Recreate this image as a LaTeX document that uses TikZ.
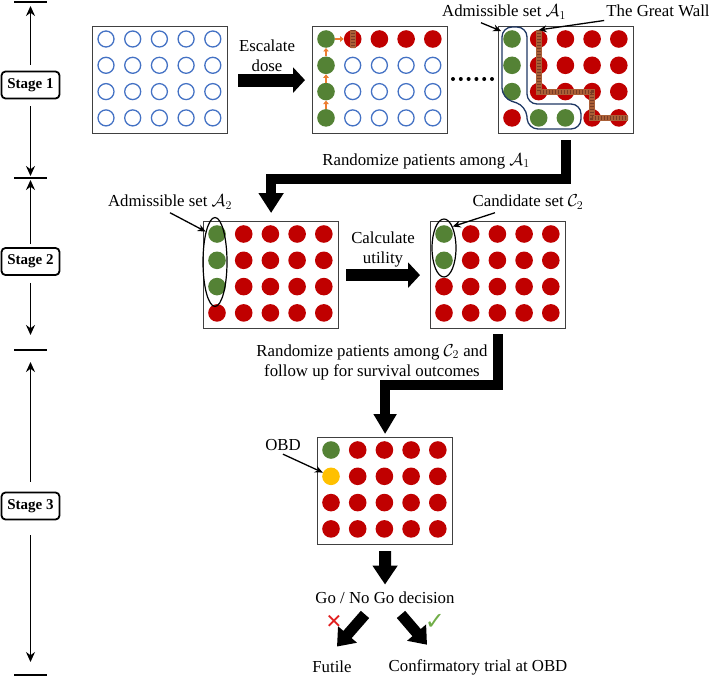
\documentclass[tikz,border=0pt]{standalone}
\usepackage{fontspec}
\setmainfont{Liberation Serif}
\newfontfamily\marksfont{DejaVu Sans}
\usetikzlibrary{shapes.geometric, arrows.meta}

\definecolor{doseRed}{RGB}{192,0,0}
\definecolor{doseGreen}{RGB}{84,130,53}
\definecolor{doseBlue}{RGB}{68,114,196}
\definecolor{doseOrange}{RGB}{237,125,49}
\definecolor{doseYellow}{RGB}{255,192,0}
\definecolor{wallBrown}{RGB}{170,95,55}
\definecolor{wallDark}{RGB}{120,60,38}
\definecolor{setNavy}{RGB}{31,56,100}
\definecolor{goGreen}{RGB}{112,173,71}
\definecolor{noRed}{RGB}{225,30,30}

\tikzstyle{gridbox} = [rectangle, draw=black!75, line width=1.2pt, minimum width=135pt, minimum height=107pt, inner sep=0pt, anchor=north west]
\tikzstyle{cellR} = [circle, fill=doseRed, minimum size=17.6pt, inner sep=0pt]
\tikzstyle{cellG} = [circle, fill=doseGreen, minimum size=17.6pt, inner sep=0pt]
\tikzstyle{cellY} = [circle, fill=doseYellow, minimum size=17.6pt, inner sep=0pt]
\tikzstyle{cellE} = [circle, draw=doseBlue, line width=1.3pt, minimum size=16pt, inner sep=0pt]
\tikzstyle{stagebox} = [rectangle, rounded corners=4pt, draw=black, line width=1.8pt, minimum width=58pt, minimum height=27pt, inner sep=2pt, font=\fontsize{15}{16}\selectfont\bfseries]
\tikzstyle{stagearrow} = [line width=1.5pt, -{Stealth[length=10pt, width=9pt]}]
\tikzstyle{stagebar} = [line width=1.6pt]
\tikzstyle{fatarrow} = [line width=11pt, line join=miter, -{Triangle[length=18pt, width=24pt]}]
\tikzstyle{pointer} = [line width=1.3pt, -{Stealth[length=8pt, width=7pt]}]
\tikzstyle{stepup} = [doseOrange, line width=1.8pt, -{Triangle[length=3.5pt, width=5.5pt]}]
\tikzstyle{wall} = [line width=6pt, draw=wallBrown, line join=miter]
\tikzstyle{bricks} = [line width=4pt, draw=wallDark, dash pattern=on 1.2pt off 1.8pt]
\tikzstyle{setring} = [ellipse, draw=black, line width=1.2pt, inner sep=0pt]

% name, left, top, rows of cell codes
\newcommand{\dosegrid}[4]{%
  \node[gridbox] (#1) at (#2,#3) {};
  \foreach \rowlist [count=\rowno] in {#4} {
    \foreach \cellcode [count=\colno] in \rowlist
      \node[cell\cellcode] (#1-\rowno-\colno) at (#2+14+26.7*\colno-26.7, #3+13+26.3*\rowno-26.3) {};
  }
}

\begin{document}
\begin{tikzpicture}[x=1pt, y=-1pt, font=\fontsize{16.8}{20}\selectfont]
  \useasboundingbox (0,0) rectangle (709,677);

  % stages on the left
  \node (s1) [stagebox] at (30.5,85) {Stage 1};
  \node (s2) [stagebox] at (30.5,261.5) {Stage 2};
  \node (s3) [stagebox] at (30.5,506) {Stage 3};
  \coordinate (bar0) at (30.5,2);
  \coordinate (bar1) at (30.5,178);
  \coordinate (bar2) at (30.5,350);
  \coordinate (bar3) at (30.5,675);
  \foreach \b in {bar0,bar1,bar2,bar3}
    \draw[stagebar] ([xshift=-16.5pt]\b) -- ([xshift=16.5pt]\b);
  \draw[stagearrow, shorten <=6pt, shorten >=4pt] (s1) -- (bar0);
  \draw[stagearrow, shorten <=7pt, shorten >=2pt] (s1) -- (bar1);
  \draw[stagearrow, shorten <=3pt, shorten >=2pt] (s2) -- (bar1);
  \draw[stagearrow, shorten <=7pt, shorten >=15pt] (s2) -- (bar2);
  \draw[stagearrow, shorten <=10pt, shorten >=12pt] (s3) -- (bar2);
  \draw[stagearrow, shorten <=15pt, shorten >=13pt] (s3) -- (bar3);

  % dose grids
  \dosegrid{g1}{92}{26}{{E,E,E,E,E},{E,E,E,E,E},{E,E,E,E,E},{E,E,E,E,E}}
  \dosegrid{g2}{312}{26}{{G,R,R,R,R},{G,E,E,E,E},{G,E,E,E,E},{G,E,E,E,E}}
  \dosegrid{g3}{498}{26}{{G,R,R,R,R},{G,R,R,R,R},{G,R,R,R,R},{R,G,G,R,R}}
  \dosegrid{g4}{203}{221}{{G,R,R,R,R},{G,R,R,R,R},{G,R,R,R,R},{R,R,R,R,R}}
  \dosegrid{g5}{430}{221}{{G,R,R,R,R},{G,R,R,R,R},{R,R,R,R,R},{R,R,R,R,R}}
  \dosegrid{g6}{317}{437}{{G,R,R,R,R},{Y,R,R,R,R},{R,R,R,R,R},{R,R,R,R,R}}

  % escalation steps
  \draw[stepup] (g2-4-1) -- (g2-3-1);
  \draw[stepup] (g2-3-1) -- (g2-2-1);
  \draw[stepup] (g2-2-1) -- (g2-1-1);
  \draw[stepup] (g2-1-1) -- (g2-1-2);

  % great wall
  \draw[wall] (g2-1-2.north) -- (g2-1-2.south);
  \draw[bricks] (g2-1-2.north) -- (g2-1-2.south);
  \draw[wall] (g3-1-2.north) -- (g3-3-2.center) -- (g3-3-4.center) -- (g3-4-4.center) -- (g3-4-5.east);
  \draw[bricks] (g3-1-2.north) -- (g3-3-2.center) -- (g3-3-4.center) -- (g3-4-4.center) -- (g3-4-5.east);

  % admissible set A1
  \draw[setNavy, line width=1.3pt, rounded corners=10pt] (502,27) -- (527,27) -- (527,104) -- (581,104) -- (581,129) -- (528,129) -- (526,106) -- (502,98) -- cycle;
  \coordinate (A1tip) at (501,31);

  \foreach \i in {0,...,5}
    \fill (453+7.8*\i,79) circle[radius=2pt];

  % sets in stage 2
  \node[setring, minimum width=24pt, minimum height=89pt] (setA2) at (215,262) {};
  \node[setring, minimum width=24pt, minimum height=58pt] (setC2) at (444,248) {};

  % labels
  \node (lblA1) at (504,12) {Admissible set $\mathcal{A}_1$};
  \node (lblWall) at (658,11) {The Great Wall};
  \node[align=center] (lblEsc) at (267,55.5) {Escalate\\dose};
  \node (lblRandA) at (426,161) {Randomize patients among $\mathcal{A}_1$};
  \node (lblA2) at (170,202) {Admissible set $\mathcal{A}_2$};
  \node[align=center] (lblCalc) at (383,249) {Calculate\\utility};
  \node (lblC2) at (528,202) {Candidate set $\mathcal{C}_2$};
  \node[align=center] (lblRandC) at (372,362) {Randomize patients among $\mathcal{C}_2$ and\\follow up for survival outcomes};
  \node (lblOBD) at (283,445) {OBD};
  \node (decide) at (385,598) {Go / No Go decision};
  \node[text=noRed, font=\marksfont\fontsize{20}{20}\selectfont] (nogo) at (334,622) {✕};
  \node[text=goGreen, font=\marksfont\fontsize{24}{24}\selectfont] (go) at (435,622) {✓};
  \node (futile) at (332,667) {Futile};
  \node (confirm) at (478,667) {Confirmatory trial at OBD};

  % pointers
  \draw[pointer] (lblA1.205) -- (A1tip);
  \draw[pointer] (lblWall.190) -- (g3-1-2.north);
  \draw[pointer] (lblA2.south) -- (setA2.107);
  \draw[pointer] (lblC2.198) -- (setC2.68);
  \draw[pointer] (lblOBD.south) -- (g6-2-1);

  % flow arrows
  \draw[fatarrow, line width=13pt, -{Triangle[length=12pt, width=25pt]}, shorten <=10pt, shorten >=7pt] (g1.east) -- (g2.west);
  \draw[fatarrow, line width=10pt, -{Triangle[length=20pt, width=24pt]}, shorten <=6pt, shorten >=8pt] (g3.south) -- ++(0,45) -| (g4.north);
  \draw[fatarrow, line width=12pt, -{Triangle[length=12pt, width=25pt]}, shorten <=7pt, shorten >=10pt] (g4.east) -- (g5.west);
  \draw[fatarrow, line width=10pt, -{Triangle[length=20pt, width=22pt]}, shorten <=5pt, shorten >=3pt] (g5.south) -- ++(0,56) -| (g6.north);
  \draw[fatarrow, line width=12pt, -{Triangle[length=19pt, width=24pt]}, shorten <=6pt, shorten >=4pt] (g6.south) -- (decide.north);
  \draw[fatarrow, line width=11pt, -{Triangle[length=16pt, width=24pt]}] ([xshift=-20pt, yshift=-7pt]decide.south) -- ([xshift=5pt, yshift=11pt]futile.north);
  \draw[fatarrow, line width=11pt, -{Triangle[length=16pt, width=24pt]}] ([xshift=16pt, yshift=-7pt]decide.south) -- ([xshift=-51pt, yshift=11pt]confirm.north);

\end{tikzpicture}
\end{document}
